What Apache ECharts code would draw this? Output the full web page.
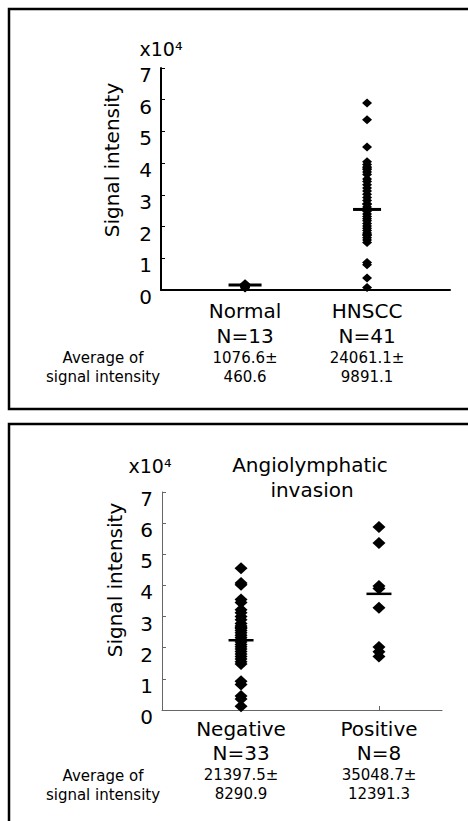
<!DOCTYPE html>
<html>
<head>
<meta charset="utf-8">
<script src="https://cdn.jsdelivr.net/npm/echarts@6/dist/echarts.min.js"></script>
<style>
	html, body { margin: 0; padding: 0; background: #fff; }
	#chart { width: 468px; height: 821px; }
</style>
</head>
<body>
<div id="chart"></div>
<script>
// top panel: Normal vs HNSCC (values in x10^4)
var groups1 = ['Normal', 'HNSCC'];
var counts1 = [13, 41];
var avg1 = [1076.6, 24061.1];
var sd1 = [460.6, 9891.1];
var normalVals = [0.06, 0.08, 0.10, 0.10, 0.12, 0.12, 0.14, 0.14, 0.15, 0.16, 0.17, 0.18, 0.20];
var hnsccVals = [5.90, 5.37, 4.51, 4.04, 3.96, 3.88, 3.85, 3.80, 3.72, 3.64, 3.50, 3.42, 3.32, 3.22,
	3.12, 3.02, 2.92, 2.82, 2.72, 2.70, 2.62, 2.55, 2.48, 2.40, 2.32, 2.25, 2.18, 2.10, 2.02, 1.95,
	1.88, 1.80, 1.75, 1.72, 1.65, 1.58, 1.50, 0.87, 0.80, 0.38, 0.08];
var markLine1 = [0.16, 2.54];

// bottom panel: angiolymphatic invasion
var groups2 = ['Negative', 'Positive'];
var counts2 = [33, 8];
var avg2 = [21397.5, 35048.7];
var sd2 = [8290.9, 12391.3];
var negativeVals = [4.55, 4.08, 4.02, 3.55, 3.45, 3.22, 3.12, 3.00, 2.90, 2.78, 2.70, 2.65, 2.62,
	2.55, 2.48, 2.40, 2.33, 2.26, 2.18, 2.10, 2.03, 1.96, 1.88, 1.80, 1.72, 1.64, 1.55, 1.48,
	0.92, 0.82, 0.45, 0.35, 0.12];
var positiveVals = [5.88, 5.36, 3.98, 3.90, 3.28, 2.02, 1.87, 1.72];
var markLine2 = [2.24, 3.73];

var yTicks = [0, 1, 2, 3, 4, 5, 6, 7];

var FONT = 'DejaVu Sans';

function points(idx, vals) {
	var out = [];
	for (var i = 0; i < vals.length; i++) {
		out.push([idx, vals[i]]);
	}
	return out;
}

function xAxisCfg(gi, min, max, names, counts, avgs, sds, tick) {
	return {
		gridIndex: gi,
		type: 'value',
		min: min,
		max: max,
		axisLine: { lineStyle: { color: gi == 0 ? '#000' : '#666', width: gi == 0 ? 2 : 1 } },
		splitLine: { show: false },
		axisTick: { show: tick, inside: true, length: 4, customValues: [1, 2], lineStyle: { color: '#666' } },
		axisLabel: {
			customValues: [1, 2],
			margin: gi == 0 ? 8 : 7,
			formatter: function(v) {
				var i = Math.round(v) - 1;
				return '{a|' + names[i] + '}\n{a|N=' + counts[i] + '}\n{b|' + avgs[i].toFixed(1) + '±}\n{b|' + sds[i].toFixed(1) + '}';
			},
			rich: {
				a: { fontSize: 20, lineHeight: gi == 0 ? 25 : 24, color: '#000', fontFamily: FONT },
				b: { fontSize: 15, lineHeight: 19, color: '#000', fontFamily: FONT }
			}
		}
	};
}

function yAxisCfg(gi) {
	return {
		gridIndex: gi,
		type: 'value',
		min: 0,
		max: 7,
		interval: 1,
		axisLine: { show: true, lineStyle: { color: gi == 0 ? '#000' : '#666', width: gi == 0 ? 2 : 1 } },
		axisTick: { show: true, inside: true, length: 4, lineStyle: { color: gi == 0 ? '#000' : '#666' } },
		splitLine: { show: false },
		axisLabel: {
			margin: 9,
			fontSize: 20,
			lineHeight: 14,
			verticalAlign: 'top',
			color: '#000',
			fontFamily: FONT,
			formatter: function(v) { return yTicks.indexOf(v) >= 0 ? String(v) : ''; }
		}
	};
}

function dotSeries(xi, idx, vals, size) {
	return {
		type: 'scatter',
		xAxisIndex: xi,
		yAxisIndex: xi,
		symbol: 'diamond',
		symbolSize: size,
		itemStyle: { color: '#000', opacity: 1 },
		silent: true,
		data: points(idx, vals)
	};
}

function meanSeries(xi, vals, sizes) {
	var data = [];
	for (var i = 0; i < vals.length; i++) {
		data.push({ value: [i + 1, vals[i]], symbolSize: sizes[i] });
	}
	return {
		type: 'scatter',
		xAxisIndex: xi,
		yAxisIndex: xi,
		symbol: 'rect',
		itemStyle: { color: '#000', opacity: 1 },
		silent: true,
		z: 3,
		data: data
	};
}

var chart = echarts.init(document.getElementById('chart'), null, { renderer: 'svg' });

chart.setOption({
	backgroundColor: '#fff',
	animation: false,
	grid: [
		{ left: 161, top: 68, width: 289, height: 222 },
		{ left: 162, top: 492, width: 280, height: 218 }
	],
	xAxis: [
		xAxisCfg(0, 0.311, 2.68, groups1, counts1, avg1, sd1, false),
		xAxisCfg(1, 0.427, 2.457, groups2, counts2, avg2, sd2, true)
	],
	yAxis: [yAxisCfg(0), yAxisCfg(1)],
	series: [
		dotSeries(0, 1, normalVals, [10, 9]),
		dotSeries(0, 2, hnsccVals, [10, 9]),
		meanSeries(0, markLine1, [[33, 3], [28, 3]]),
		dotSeries(1, 1, negativeVals, [13, 12]),
		dotSeries(1, 2, positiveVals, [13, 12]),
		meanSeries(1, markLine2, [[25, 2.5], [25, 2.5]])
	],
	graphic: [
		// panel frames
		{ type: 'rect', shape: { x: 9, y: 9, width: 470, height: 400 }, style: { fill: 'none', stroke: '#000', lineWidth: 2.5 } },
		{ type: 'rect', shape: { x: 9, y: 424, width: 470, height: 410 }, style: { fill: 'none', stroke: '#000', lineWidth: 2.5 } },
		// axis units
		{ type: 'text', x: 161, y: 49, style: { text: 'x10⁴', font: '19px "DejaVu Sans"', fill: '#000', textAlign: 'center', textVerticalAlign: 'middle' } },
		{ type: 'text', x: 150, y: 466, style: { text: 'x10⁴', font: '19px "DejaVu Sans"', fill: '#000', textAlign: 'center', textVerticalAlign: 'middle' } },
		// y axis names
		{ type: 'text', x: 112, y: 160, rotation: Math.PI / 2, style: { text: 'Signal intensity', font: '20px "DejaVu Sans"', fill: '#000', textAlign: 'center', textVerticalAlign: 'middle' } },
		{ type: 'text', x: 115, y: 580, rotation: Math.PI / 2, style: { text: 'Signal intensity', font: '20px "DejaVu Sans"', fill: '#000', textAlign: 'center', textVerticalAlign: 'middle' } },
		// row captions
		{ type: 'text', x: 103, y: 358, style: { text: 'Average of', font: '15px "DejaVu Sans"', fill: '#000', textAlign: 'center', textVerticalAlign: 'middle' } },
		{ type: 'text', x: 103, y: 377, style: { text: 'signal intensity', font: '15px "DejaVu Sans"', fill: '#000', textAlign: 'center', textVerticalAlign: 'middle' } },
		{ type: 'text', x: 103, y: 776, style: { text: 'Average of', font: '15px "DejaVu Sans"', fill: '#000', textAlign: 'center', textVerticalAlign: 'middle' } },
		{ type: 'text', x: 103, y: 795, style: { text: 'signal intensity', font: '15px "DejaVu Sans"', fill: '#000', textAlign: 'center', textVerticalAlign: 'middle' } },
		// bottom title
		{ type: 'text', x: 310, y: 465, style: { text: 'Angiolymphatic', font: '20px "DejaVu Sans"', fill: '#000', textAlign: 'center', textVerticalAlign: 'middle' } },
		{ type: 'text', x: 312, y: 490, style: { text: 'invasion', font: '20px "DejaVu Sans"', fill: '#000', textAlign: 'center', textVerticalAlign: 'middle' } }
	]
});
</script>
</body>
</html>
